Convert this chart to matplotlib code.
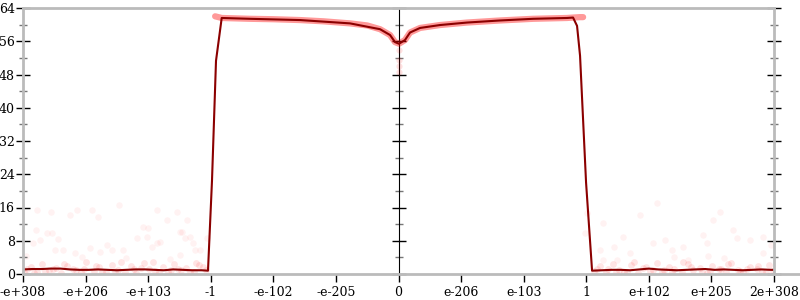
import numpy as np
import matplotlib.pyplot as plt
from matplotlib.lines import Line2D

# x positions are in tick units: 0 -> "-e+308", 6 -> "0", 12 -> "2e+308"
x_tick_labels = ['-e+308', '-e+206', '-e+103', '-1', '-e-102', '-e-205', '0',
                 'e-206', 'e-103', '1', 'e+102', 'e+205', '2e+308']
y_ticks = [0, 8, 16, 24, 32, 40, 48, 56, 64]

# averaged error line (bits)
line_u = [0.0, 0.15, 0.3, 0.45, 0.6, 0.75, 0.9, 1.05, 1.2, 1.35, 1.5, 1.65, 1.8,
          1.95, 2.1, 2.25, 2.4, 2.55, 2.7, 2.85, 2.956,
          3.02, 3.084, 3.175, 3.627, 4.426, 5.225, 5.705, 5.865, 5.944, 6.008,
          6.104, 6.184, 6.344, 6.663, 7.095, 7.622, 8.150, 8.693, 8.789, 8.853,
          8.901, 8.997, 9.093, 9.25, 9.4, 9.55, 9.7, 9.85, 10.0, 10.15, 10.3,
          10.45, 10.6, 10.75, 10.9, 11.05, 11.2, 11.35, 11.5, 11.65, 11.8,
          11.95, 12.0]
line_err = [1.1, 1.2, 1.2, 1.3, 1.3, 1.1, 1.0, 1.0, 1.1, 1.0, 0.9, 1.0, 1.1,
            1.1, 1.0, 0.9, 1.1, 1.0, 0.9, 0.9, 0.8,
            22.5, 51.3, 61.6, 61.4, 61.1, 60.3, 58.9, 57.5, 55.8, 55.4,
            56.3, 58.1, 59.2, 59.9, 60.5, 61.0, 61.4, 61.6, 61.7, 59.7,
            52.5, 22.0, 0.8, 0.9, 1.0, 1.0, 0.9, 1.1, 1.3, 1.1, 1.0,
            0.9, 1.0, 1.1, 1.2, 1.0, 1.1, 1.0, 0.9, 1.0, 1.1,
            1.0, 1.0]

# top sample points following the error curve
top_u = [3.07, 3.175, 3.4, 3.627, 4.0, 4.426, 4.8, 5.225, 5.5, 5.705, 5.865,
         5.944, 6.008, 6.104, 6.184, 6.344, 6.663, 7.095, 7.622, 8.150, 8.693,
         8.789, 8.9, 8.95]
top_err = [62.0, 61.6, 61.5, 61.4, 61.3, 61.1, 60.8, 60.3, 59.8, 58.9, 57.5,
           55.8, 55.4, 56.3, 58.1, 59.2, 59.9, 60.5, 61.0, 61.4, 61.6,
           61.7, 61.8, 61.8]

# sparse sample points scattered above the low-error plateaus
noise_u = [0.224, 0.447, 0.751, 0.863, 1.103, 1.198, 1.534, 0.208, 0.384, 0.463,
           0.272, 0.559, 0.639, 0.511, 0.831, 1.071, 1.230, 1.422, 1.598, 1.822,
           1.997, 2.061, 2.189, 2.141, 2.461, 2.621, 2.541, 2.589, 2.717, 2.828,
           2.940, 0.160, 1.342, 1.918, 1.981, 2.141, 2.301, 2.509, 2.669, 2.749,
           2.509, 0.95, 1.65, 0.05, 2.35,
           9.013, 9.268, 8.981, 9.588, 9.860, 10.131, 10.067, 10.259, 10.371,
           10.547, 10.866, 10.930, 11.026, 11.138, 11.346, 11.409, 11.617,
           11.825, 11.825, 10.626, 9.700, 9.492, 9.220, 9.268, 10.95, 11.2,
           9.45, 10.4, 11.95]
noise_err = [15.3, 14.9, 14.1, 15.3, 15.3, 13.7, 16.5, 10.5, 9.8, 9.8,
             8.2, 8.4, 5.8, 5.8, 5.0, 6.2, 5.3, 5.8, 5.8, 8.6,
             11.0, 6.5, 7.7, 7.4, 14.9, 12.9, 10.1, 8.6, 7.4, 5.8,
             8.6, 7.4, 7.0, 11.3, 8.9, 15.3, 12.9, 10.1, 8.9, 5.8,
             4.6, 4.2, 3.9, 4.4, 3.6,
             14.6, 12.2, 9.8, 8.9, 14.1, 17.0, 7.4, 8.2, 5.8,
             6.5, 9.3, 7.4, 12.9, 14.9, 10.5, 8.6, 8.2,
             8.9, 5.0, 3.4, 5.0, 3.4, 5.8, 3.4, 4.3, 3.8,
             6.6, 4.1, 6.9]

# dense band of sample points near zero error
band_u = [0.02, 0.12, 0.22, 0.31, 0.41, 0.52, 0.6, 0.71, 0.8, 0.92, 1.0, 1.13,
          1.21, 1.33, 1.42, 1.51, 1.63, 1.72, 1.81, 1.93, 2.02, 2.11, 2.23,
          2.31, 2.42, 2.52, 2.6, 2.73, 2.82, 2.92, 0.07, 0.35, 0.66, 0.97,
          1.27, 1.57, 1.88, 2.17, 2.47, 2.77, 0.18, 0.48, 0.85, 1.17, 1.47,
          1.77, 2.07, 2.37, 2.67, 2.88,
          9.12, 9.22, 9.31, 9.43, 9.52, 9.61, 9.72, 9.83, 9.91, 10.02, 10.13,
          10.21, 10.32, 10.41, 10.53, 10.62, 10.71, 10.82, 10.93, 11.01,
          11.12, 11.23, 11.31, 11.42, 11.51, 11.62, 11.73, 11.81, 11.92, 11.98,
          9.17, 9.47, 9.77, 10.07, 10.37, 10.67, 10.97, 11.27, 11.57, 11.87,
          9.35, 9.65, 9.95, 10.25, 10.55, 10.85, 11.15, 11.45, 11.75]
band_err = [0.6, 1.8, 0.4, 2.4, 0.9, 1.5, 0.3, 2.0, 1.1, 0.5, 2.8, 0.8, 1.6,
            0.4, 2.2, 1.0, 0.6, 1.9, 0.3, 2.6, 1.2, 0.7, 1.7, 0.4, 2.3, 0.9,
            1.4, 0.5, 2.1, 1.0, 1.2, 0.8, 2.5, 1.3, 0.6, 3.0, 1.5, 0.5, 1.1,
            2.7, 0.3, 1.3, 0.9, 2.0, 0.7, 1.2, 2.9, 1.0, 0.4, 1.6,
            0.7, 1.9, 0.4, 2.5, 1.0, 0.6, 2.1, 0.3, 1.4, 0.8, 2.7, 0.5, 1.8,
            1.1, 0.4, 2.3, 0.9, 1.5, 0.3, 2.0, 1.2, 0.6, 2.6, 0.9, 0.4, 1.7,
            1.1, 0.5, 2.2, 0.8, 1.3, 0.6, 2.9, 1.0, 0.5, 1.6, 0.8, 2.4, 1.2,
            0.4, 1.1, 0.6, 1.8, 0.9, 2.8, 0.5, 1.3, 0.7, 2.0]

# extra samples dropping below the dip at zero
dip_u = [6.008, 6.008, 6.008, 6.008]
dip_err = [54.0, 51.5, 50.0, 48.5]

GREY = '#bbbbbb'
plt.rcParams['font.family'] = 'DejaVu Serif'

fig = plt.figure(figsize=(8, 3), dpi=100)
ax = fig.add_axes([23 / 800, 26 / 300, 751 / 800, 266 / 300])

# sample points
ax.scatter(noise_u, noise_err, s=22, color='red', alpha=0.05, linewidths=0)
ax.scatter(band_u, band_err, s=24, color='red', alpha=0.10, linewidths=0)
ax.scatter(dip_u, dip_err, s=20, color='red', alpha=0.12, linewidths=0)
ax.plot(top_u, top_err, color='red', alpha=0.4, linewidth=4.5,
        solid_capstyle='round')

# averaged error line
ax.plot(line_u, line_err, color='#8b0000', linewidth=1.5)

ax.set_xlim(0, 12)
ax.set_ylim(0, 64)

for side in ['left', 'right', 'top', 'bottom']:
    ax.spines[side].set_color(GREY)
    ax.spines[side].set_linewidth(2)

ax.set_xticks(range(13))
ax.set_xticklabels(x_tick_labels, fontsize=9)
ax.tick_params(axis='x', direction='out', length=6, width=1, color='black',
               pad=3)

ax.set_yticks(y_ticks)
ax.set_yticks([4, 12, 20, 28, 36, 44, 52, 60], minor=True)
ax.tick_params(axis='y', which='major', direction='inout', length=10, width=1,
               color='black', left=True, right=True, labelright=False,
               labelsize=9, pad=1)
ax.tick_params(axis='y', which='minor', direction='inout', length=6, width=1,
               color='#777777', left=True, right=True)

# axis at x = 0
mid = ax.secondary_yaxis(0.5)
mid.set_yticks(y_ticks)
mid.set_yticks([4, 12, 20, 28, 36, 44, 52, 60], minor=True)
mid.set_yticklabels([])
mid.spines['left'].set_color(GREY)
mid.spines['left'].set_linewidth(2)
mid.tick_params(axis='y', which='major', direction='inout', length=10, width=1,
                color='black')
mid.tick_params(axis='y', which='minor', direction='inout', length=6, width=1,
                color='#777777')

# bottom axis line runs on to the right edge of the image
fig.add_artist(Line2D([774 / 800, 1.0], [26 / 300, 26 / 300], color=GREY,
                      linewidth=2))

fig.savefig('out.png', dpi=100)
